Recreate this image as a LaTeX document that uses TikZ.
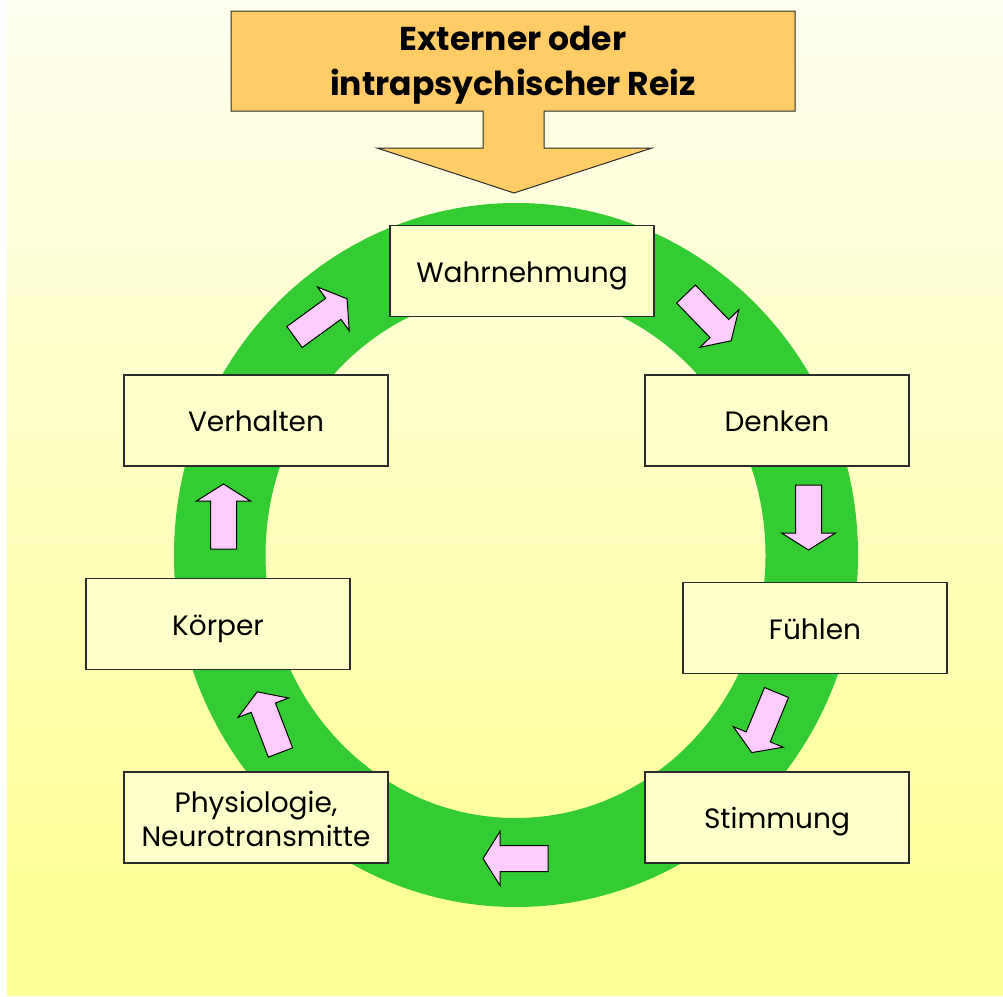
\documentclass[tikz,border=0pt]{standalone}
\usepackage{fontspec}
\setmainfont{Poppins}
\definecolor{bgtop}{HTML}{FFFFF0}
\definecolor{bgbot}{HTML}{FFFF99}
\definecolor{ringgreen}{HTML}{33CC33}
\definecolor{boxfill}{HTML}{FFFFCC}
\definecolor{orangefill}{HTML}{FFCC66}
\definecolor{pinkfill}{HTML}{FFCCFF}
\definecolor{edge}{HTML}{2B2B2B}
\tikzset{
  stagebox/.style={draw=edge, line width=1.4pt, fill=boxfill, minimum width=264pt, minimum height=91pt, inner sep=0pt, align=center, font=\fontsize{28}{34}\selectfont, text height=24pt, text depth=2pt},
  parrow/.style={draw=black, line width=1pt, fill=pinkfill, line join=miter},
  reizshape/.style={draw=edge, line width=1pt, fill=orangefill}
}
\newcommand{\pinkarrow}[3]{\draw[parrow, shift={(#1,#2)}, rotate=#3] (0,13) -- (48,13) -- (48,27) -- (65,0) -- (48,-27) -- (48,-13) -- (0,-13) -- cycle;}
\begin{document}
\begin{tikzpicture}[x=1pt, y=-1pt]
\useasboundingbox (0,0) rectangle (1003,996);
% background
\fill[white] (0,0) rectangle (1003,996);
\shade[top color=bgtop, bottom color=bgbot] (7,0) rectangle (1003,880);
\fill[bgbot] (7,879.5) rectangle (1003,996);
% ring
\fill[ringgreen, even odd rule] (516,555) ellipse [x radius=342pt, y radius=352pt]
  (515.5,555) ellipse [x radius=250pt, y radius=263pt];
% top stimulus box with arrow
\draw[reizshape] (231,11) -- (795,11) -- (795,111) -- (544,111) -- (544,148) -- (652,148)
  -- (514,193) -- (377,148) -- (483,148) -- (483,111) -- (231,111) -- cycle;
\node[align=center, inner sep=0pt, font=\bfseries\fontsize{33}{45}\selectfont, text height=70pt, text depth=2pt] (reiz) at (513,61) {Externer oder\\intrapsychischer Reiz};
% stage boxes
\node[stagebox] (wahr) at (522,271) {Wahrnehmung};
\node[stagebox] (denk) at (777,420.5) {Denken};
\node[stagebox] (fuehl) at (815,628) {Fühlen};
\node[stagebox] (stimm) at (777,817.5) {Stimmung};
\node[stagebox, text height=59pt, text depth=2pt] (phys) at (256,817.5) {Physiologie,\\Neurotransmitte};
\node[stagebox] (koerp) at (218,624) {Körper};
\node[stagebox] (verh) at (256,420.5) {Verhalten};
% pink arrows
\pinkarrow{686}{294}{-46}
\pinkarrow{808.5}{485}{-90}
\pinkarrow{776.5}{692.5}{-112.4}
\pinkarrow{548}{858.5}{180}
\pinkarrow{280.5}{752.5}{111}
\pinkarrow{223.5}{549}{90}
\pinkarrow{294.5}{337}{36}
\end{tikzpicture}
\end{document}
